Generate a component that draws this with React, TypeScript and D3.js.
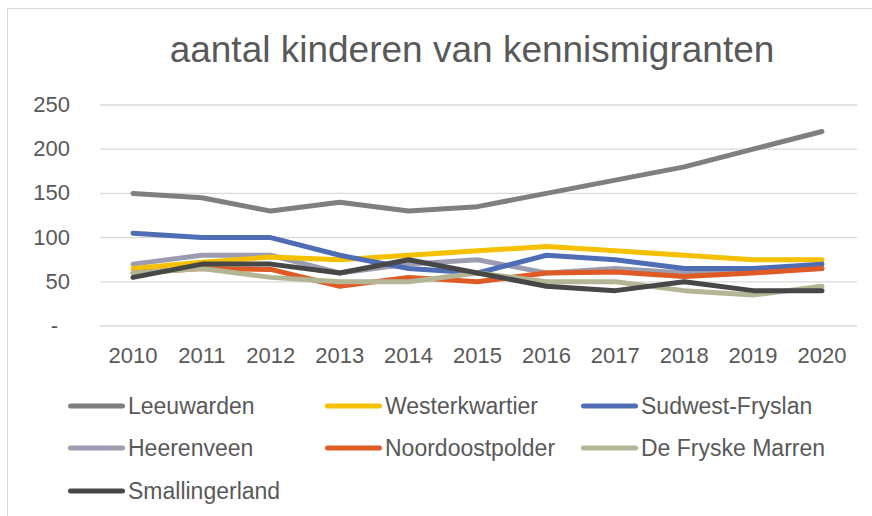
import React from "react";
import * as d3 from "d3";

const years = ["2010", "2011", "2012", "2013", "2014", "2015", "2016", "2017", "2018", "2019", "2020"];
const yTicks = [0, 50, 100, 150, 200, 250];

const leeuwarden = [150, 145, 130, 140, 130, 135, 150, 165, 180, 200, 220];
const westerkwartier = [65, 72, 78, 75, 80, 85, 90, 85, 80, 75, 75];
const sudwestFryslan = [105, 100, 100, 80, 65, 60, 80, 75, 65, 65, 70];
const heerenveen = [70, 80, 80, 60, 70, 75, 60, 65, 60, 62, 65];
const noordoostpolder = [60, 65, 64, 45, 55, 50, 60, 61, 56, 60, 65];
const deFryskeMarren = [60, 65, 55, 50, 50, 60, 50, 50, 40, 35, 45];
const smallingerland = [55, 70, 70, 60, 75, 60, 45, 40, 50, 40, 40];

const seriesNames = [
  "Leeuwarden", "Westerkwartier", "Sudwest-Fryslan", "Heerenveen",
  "Noordoostpolder", "De Fryske Marren", "Smallingerland",
];
const seriesValues = [
  leeuwarden, westerkwartier, sudwestFryslan, heerenveen,
  noordoostpolder, deFryskeMarren, smallingerland,
];
const colors = ["#7f7f7f", "#f5c000", "#4f6db4", "#9c9cb0", "#df5a24", "#b4b594", "#474747"];
// draw order, back to front
const drawOrder = [0, 3, 1, 2, 4, 5, 6];

const App = () => {
  const svgRef = React.useRef(null);

  React.useEffect(() => {
    const svg = d3.select(svgRef.current);
    svg.selectAll("*").remove();
    const font = "'Liberation Sans', Arial, sans-serif";

    // frame
    svg.append("rect")
      .attr("x", 7.5).attr("y", 8.5)
      .attr("width", 900).attr("height", 600)
      .attr("fill", "#fff").attr("stroke", "#d9d9d9");

    svg.append("text")
      .attr("x", 472).attr("y", 62)
      .attr("text-anchor", "middle")
      .style("font-family", font).style("font-size", "37px")
      .attr("fill", "#595959")
      .text("aantal kinderen van kennismigranten");

    const x = d3.scalePoint().domain(years).range([133, 822]);
    const y = d3.scaleLinear().domain([0, 250]).range([326, 105]);

    // gridlines
    svg.append("g").selectAll("line").data(yTicks).enter().append("line")
      .attr("x1", 100).attr("x2", 857)
      .attr("y1", (d) => y(d)).attr("y2", (d) => y(d))
      .attr("stroke", "#d9d9d9").attr("stroke-width", 1.3);

    // y labels
    svg.append("g").selectAll("text").data(yTicks).enter().append("text")
      .attr("x", (d) => (d === 0 ? 58 : 70))
      .attr("y", (d) => y(d) + 7)
      .attr("text-anchor", "end")
      .style("font-family", font).style("font-size", "22px")
      .attr("fill", "#595959")
      .text((d) => (d === 0 ? "-" : String(d)));

    // x labels
    svg.append("g").selectAll("text").data(years).enter().append("text")
      .attr("x", (d) => x(d))
      .attr("y", 363)
      .attr("text-anchor", "middle")
      .style("font-family", font).style("font-size", "22px")
      .attr("fill", "#595959")
      .text((d) => d);

    const line = d3.line<number>()
      .x((d, i) => x(years[i]))
      .y((d) => y(d));

    svg.append("g").selectAll("path").data(drawOrder).enter().append("path")
      .attr("d", (i) => line(seriesValues[i]))
      .attr("fill", "none")
      .attr("stroke", (i) => colors[i])
      .attr("stroke-width", 5)
      .attr("stroke-linejoin", "round")
      .attr("stroke-linecap", "round");

    // legend
    const colX = [68, 325, 581];
    const rowY = [406, 448, 491];
    const lg = svg.append("g").selectAll("g").data(seriesNames).enter().append("g")
      .attr("transform", (d, i) => `translate(${colX[i % 3]},${rowY[Math.floor(i / 3)]})`);
    lg.append("line")
      .attr("x1", 2.5).attr("x2", 54.5).attr("y1", 0).attr("y2", 0)
      .attr("stroke", (d, i) => colors[i])
      .attr("stroke-width", 5)
      .attr("stroke-linecap", "round");
    lg.append("text")
      .attr("x", 60).attr("y", 8)
      .style("font-family", font).style("font-size", "23px")
      .attr("fill", "#595959")
      .text((d) => d);
  }, []);

  return (
    <svg ref={svgRef} width={872} height={516}
      style={{ position: "absolute", left: 0, top: 0 }} />
  );
};

export default App;
